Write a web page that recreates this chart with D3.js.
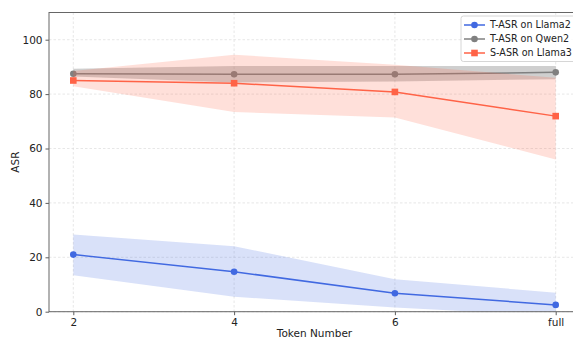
<!DOCTYPE html>
<html>
<head>
<meta charset="utf-8">
<script src="https://cdn.jsdelivr.net/npm/d3@7"></script>
<style>
  body { margin: 0; padding: 0; background: #fff; }
  svg { display: block; font-family: 'DejaVu Sans', sans-serif; }
</style>
</head>
<body>
<div id="main"></div>
<script>
// chart data
const tokenLabels = ['2', '4', '6', 'full'];
const llama2Mean = [21.0, 14.7, 6.8, 2.5];
const llama2Low = [13.4, 5.5, 1.5, -1.5];
const llama2High = [28.4, 24.1, 11.9, 7.0];
const qwen2Mean = [87.5, 87.3, 87.3, 88.0];
const qwen2Low = [86.5, 84.3, 84.6, 85.5];
const qwen2High = [89.3, 90.3, 90.3, 90.3];
const llama3Mean = [85.0, 84.0, 80.8, 71.9];
const llama3Low = [82.9, 73.4, 71.4, 56.0];
const llama3High = [88.5, 94.5, 90.8, 86.0];
const yTicks = [0, 20, 40, 60, 80, 100];

const series = [
    {name: 'T-ASR on Llama2', mean: llama2Mean, low: llama2Low, high: llama2High, color: '#4169e1', bandOpacity: 0.2, marker: 'circle'},
    {name: 'T-ASR on Qwen2', mean: qwen2Mean, low: qwen2Low, high: qwen2High, color: '#808080', bandOpacity: 0.38, marker: 'circle'},
    {name: 'S-ASR on Llama3', mean: llama3Mean, low: llama3Low, high: llama3High, color: '#ff6347', bandOpacity: 0.2, marker: 'square'}
];

const WIDTH = 573;
const HEIGHT = 338;
const margin = {left: 49, top: 12.5, right: 580, bottom: 311.7};

const scaleX = d3.scalePoint().domain(tokenLabels).range([73.3, 555.7]);
const scaleY = d3.scaleLinear().domain([0, 110]).range([margin.bottom, margin.top]);

const svg = d3.select('#main').append('svg')
    .attr('width', WIDTH)
    .attr('height', HEIGHT);

svg.append('defs').append('clipPath').attr('id', 'plot-clip')
    .append('rect')
    .attr('x', margin.left)
    .attr('y', margin.top)
    .attr('width', margin.right - margin.left)
    .attr('height', margin.bottom - margin.top);

// grid
const grid = svg.append('g').attr('stroke', '#dcdcdc').attr('stroke-width', 0.7).attr('stroke-dasharray', '2.5,2');
grid.selectAll('.gy').data(yTicks).enter().append('line')
    .attr('x1', margin.left).attr('x2', margin.right)
    .attr('y1', (d) => scaleY(d)).attr('y2', (d) => scaleY(d));
grid.selectAll('.gx').data(tokenLabels).enter().append('line')
    .attr('x1', (d) => scaleX(d)).attr('x2', (d) => scaleX(d))
    .attr('y1', margin.top).attr('y2', margin.bottom);

const plot = svg.append('g').attr('clip-path', 'url(#plot-clip)');

const area = d3.area()
    .x((d) => scaleX(d.label))
    .y0((d) => scaleY(d.low))
    .y1((d) => scaleY(d.high));
const line = d3.line()
    .x((d) => scaleX(d.label))
    .y((d) => scaleY(d.mean));

series.forEach((s) => {
    const pts = tokenLabels.map((label, i) => ({label, mean: s.mean[i], low: s.low[i], high: s.high[i]}));
    plot.append('path')
        .datum(pts)
        .attr('d', area)
        .attr('fill', s.color)
        .attr('fill-opacity', s.bandOpacity);
    plot.append('path')
        .datum(pts)
        .attr('d', line)
        .attr('fill', 'none')
        .attr('stroke', s.color)
        .attr('stroke-width', 1.5);
    if (s.marker === 'circle') {
        plot.selectAll(null).data(pts).enter().append('circle')
            .attr('cx', (d) => scaleX(d.label))
            .attr('cy', (d) => scaleY(d.mean))
            .attr('r', 3.3)
            .attr('fill', s.color);
    } else {
        plot.selectAll(null).data(pts).enter().append('rect')
            .attr('x', (d) => scaleX(d.label) - 3.3)
            .attr('y', (d) => scaleY(d.mean) - 3.3)
            .attr('width', 6.6)
            .attr('height', 6.6)
            .attr('fill', s.color);
    }
});

// axes
const axisY = d3.axisLeft(scaleY).tickValues(yTicks).tickSize(3.5).tickPadding(3);
const gy = svg.append('g').attr('transform', `translate(${margin.left},0)`).call(axisY);
const axisX = d3.axisBottom(scaleX).tickSize(3.5).tickPadding(3);
const gx = svg.append('g').attr('transform', `translate(0,${margin.bottom})`).call(axisX);
[gx, gy].forEach((g) => {
    g.select('.domain').remove();
    g.selectAll('line').attr('stroke', '#333').attr('stroke-width', 0.8);
    g.selectAll('text').attr('font-size', 10.5).attr('fill', '#222').attr('font-family', 'DejaVu Sans, sans-serif');
});

// spines
svg.append('rect')
    .attr('x', margin.left)
    .attr('y', margin.top)
    .attr('width', margin.right - margin.left)
    .attr('height', margin.bottom - margin.top)
    .attr('fill', 'none')
    .attr('stroke', '#666')
    .attr('stroke-width', 1);

svg.append('text')
    .attr('x', (margin.left + margin.right) / 2)
    .attr('y', 336.5)
    .attr('text-anchor', 'middle')
    .attr('font-size', 10.5)
    .attr('fill', '#222')
    .text('Token Number');
svg.append('text')
    .attr('transform', `translate(19,${(margin.top + margin.bottom) / 2}) rotate(-90)`)
    .attr('text-anchor', 'middle')
    .attr('font-size', 10.5)
    .attr('fill', '#222')
    .text('ASR');

// legend
const legend = svg.append('g').attr('transform', 'translate(461,16)');
legend.append('rect')
    .attr('width', 124)
    .attr('height', 45.5)
    .attr('rx', 2.5)
    .attr('fill', '#fff')
    .attr('fill-opacity', 0.85)
    .attr('stroke', '#ccc')
    .attr('stroke-width', 0.8);
series.forEach((s, i) => {
    const ly = 9 + i * 14;
    legend.append('line')
        .attr('x1', 3).attr('x2', 24)
        .attr('y1', ly).attr('y2', ly)
        .attr('stroke', s.color).attr('stroke-width', 1.5);
    if (s.marker === 'circle') {
        legend.append('circle').attr('cx', 13.5).attr('cy', ly).attr('r', 3.3).attr('fill', s.color);
    } else {
        legend.append('rect').attr('x', 10.2).attr('y', ly - 3.3).attr('width', 6.6).attr('height', 6.6).attr('fill', s.color);
    }
    legend.append('text')
        .attr('x', 29)
        .attr('y', ly + 3.3)
        .attr('font-size', 9.6)
        .attr('fill', '#222')
        .text(s.name);
});
</script>
</body>
</html>
